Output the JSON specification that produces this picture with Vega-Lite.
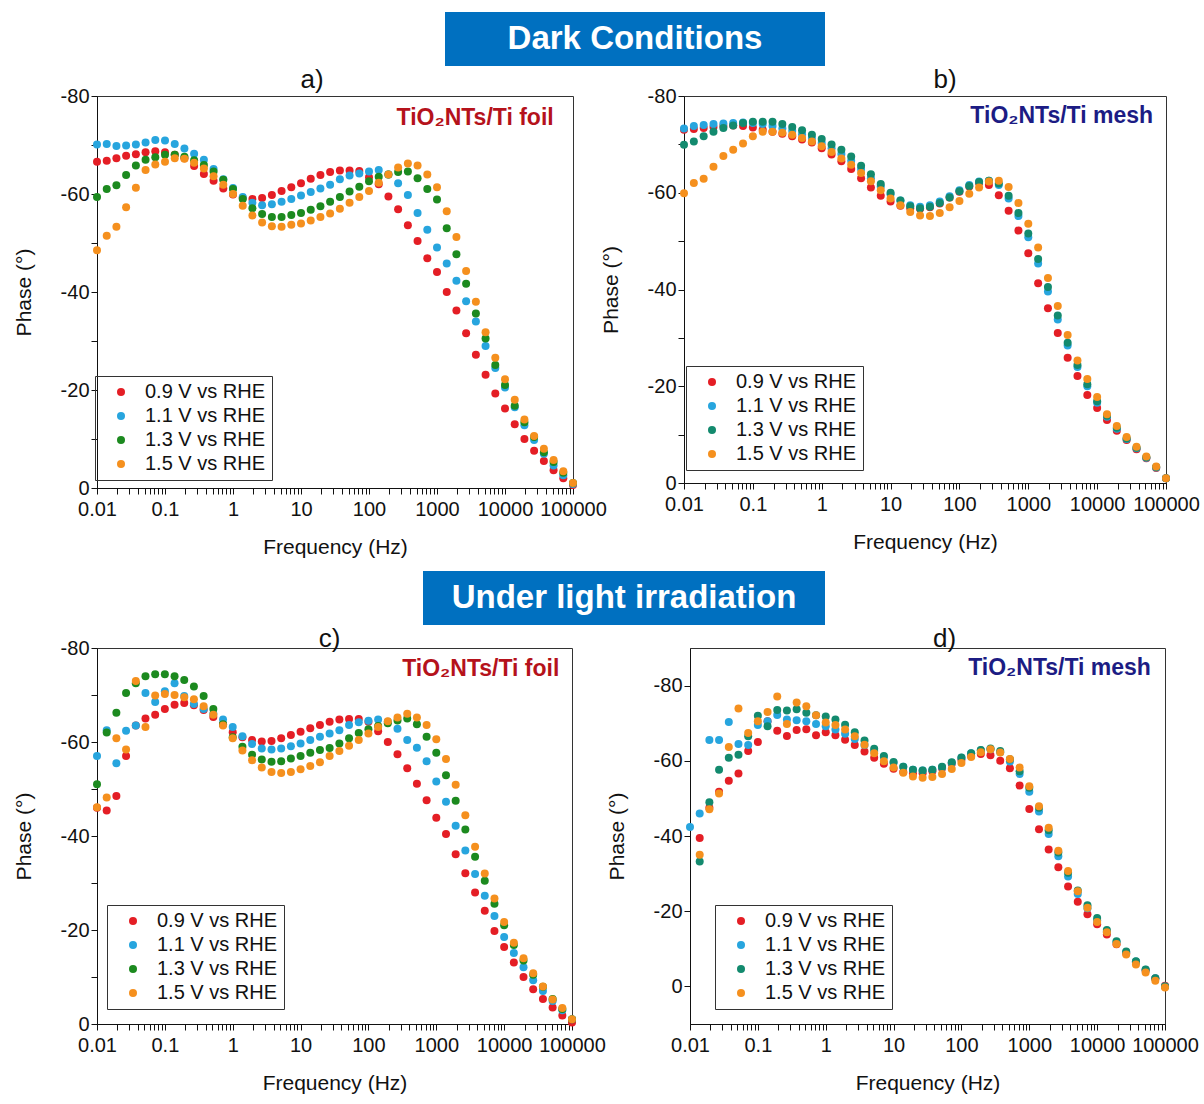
{
"$schema":"https://vega.github.io/schema/vega-lite/v6.json",
"background":"white",
"padding":{"left":12,"top":12,"right":4,"bottom":2},
"config":{
 "font":"Liberation Sans",
 "view":{"stroke":"#333","strokeWidth":1},
 "axis":{"labelFont":"Liberation Sans","titleFont":"Liberation Sans","labelFontSize":20,"titleFontSize":21,"titleFontWeight":"normal","labelColor":"#111","titleColor":"#111","domainColor":"#111","tickColor":"#111","grid":false,"tickSize":6},
 "legend":{"labelFont":"Liberation Sans","labelFontSize":20,"labelColor":"#111","symbolType":"circle","symbolSize":64,"symbolStrokeWidth":0,"padding":6,"rowPadding":4,"strokeColor":"#333","symbolOffset":10,"labelOffset":14},
 "title":{"font":"Liberation Sans","fontSize":26,"fontWeight":"normal","color":"#111","offset":4}
},
"datasets":{
"a":[
{"s":"0.9","f":0.01,"y":-66.6},{"s":"0.9","f":0.0139,"y":-66.8},{"s":"0.9","f":0.0193,"y":-67.3},{"s":"0.9","f":0.0268,"y":-67.8},{"s":"0.9","f":0.0373,"y":-68.1},{"s":"0.9","f":0.0518,"y":-68.5},{"s":"0.9","f":0.072,"y":-68.7},{"s":"0.9","f":0.1,"y":-68.5},{"s":"0.9","f":0.139,"y":-68.0},{"s":"0.9","f":0.193,"y":-67.3},{"s":"0.9","f":0.268,"y":-65.7},{"s":"0.9","f":0.373,"y":-64.1},{"s":"0.9","f":0.518,"y":-62.7},{"s":"0.9","f":0.72,"y":-61.1},{"s":"0.9","f":1,"y":-59.9},{"s":"0.9","f":1.39,"y":-59.2},{"s":"0.9","f":1.93,"y":-59.0},{"s":"0.9","f":2.68,"y":-59.2},{"s":"0.9","f":3.73,"y":-59.8},{"s":"0.9","f":5.18,"y":-60.6},{"s":"0.9","f":7.2,"y":-61.4},{"s":"0.9","f":10,"y":-62.2},{"s":"0.9","f":13.9,"y":-63.1},{"s":"0.9","f":19.3,"y":-63.9},{"s":"0.9","f":26.8,"y":-64.5},{"s":"0.9","f":37.3,"y":-64.8},{"s":"0.9","f":51.8,"y":-64.8},{"s":"0.9","f":72,"y":-64.7},{"s":"0.9","f":100,"y":-63.4},{"s":"0.9","f":139,"y":-62.0},{"s":"0.9","f":193,"y":-59.5},{"s":"0.9","f":268,"y":-56.9},{"s":"0.9","f":373,"y":-53.6},{"s":"0.9","f":518,"y":-50.4},{"s":"0.9","f":720,"y":-46.9},{"s":"0.9","f":1000,"y":-44.1},{"s":"0.9","f":1390,"y":-40.0},{"s":"0.9","f":1930,"y":-36.2},{"s":"0.9","f":2680,"y":-31.6},{"s":"0.9","f":3730,"y":-27.2},{"s":"0.9","f":5180,"y":-23.1},{"s":"0.9","f":7200,"y":-19.3},{"s":"0.9","f":10000,"y":-16.2},{"s":"0.9","f":13900,"y":-13.0},{"s":"0.9","f":19300,"y":-10.0},{"s":"0.9","f":26800,"y":-7.6},{"s":"0.9","f":37300,"y":-5.5},{"s":"0.9","f":51800,"y":-3.6},{"s":"0.9","f":72000,"y":-2.0},{"s":"0.9","f":100000,"y":-0.6},
{"s":"1.1","f":0.01,"y":-70.1},{"s":"1.1","f":0.0139,"y":-70.2},{"s":"1.1","f":0.0193,"y":-69.8},{"s":"1.1","f":0.0268,"y":-69.9},{"s":"1.1","f":0.0373,"y":-70.1},{"s":"1.1","f":0.0518,"y":-70.5},{"s":"1.1","f":0.072,"y":-71.0},{"s":"1.1","f":0.1,"y":-70.9},{"s":"1.1","f":0.139,"y":-70.2},{"s":"1.1","f":0.193,"y":-69.3},{"s":"1.1","f":0.268,"y":-68.2},{"s":"1.1","f":0.373,"y":-67.0},{"s":"1.1","f":0.518,"y":-65.1},{"s":"1.1","f":0.72,"y":-63.0},{"s":"1.1","f":1,"y":-61.2},{"s":"1.1","f":1.39,"y":-59.4},{"s":"1.1","f":1.93,"y":-58.2},{"s":"1.1","f":2.68,"y":-57.7},{"s":"1.1","f":3.73,"y":-57.9},{"s":"1.1","f":5.18,"y":-58.4},{"s":"1.1","f":7.2,"y":-59.0},{"s":"1.1","f":10,"y":-59.7},{"s":"1.1","f":13.9,"y":-60.4},{"s":"1.1","f":19.3,"y":-61.1},{"s":"1.1","f":26.8,"y":-61.9},{"s":"1.1","f":37.3,"y":-63.0},{"s":"1.1","f":51.8,"y":-63.8},{"s":"1.1","f":72,"y":-64.2},{"s":"1.1","f":100,"y":-64.6},{"s":"1.1","f":139,"y":-64.9},{"s":"1.1","f":193,"y":-64.0},{"s":"1.1","f":268,"y":-62.2},{"s":"1.1","f":373,"y":-59.8},{"s":"1.1","f":518,"y":-56.1},{"s":"1.1","f":720,"y":-52.7},{"s":"1.1","f":1000,"y":-49.1},{"s":"1.1","f":1390,"y":-45.8},{"s":"1.1","f":1930,"y":-42.3},{"s":"1.1","f":2680,"y":-38.1},{"s":"1.1","f":3730,"y":-34.0},{"s":"1.1","f":5180,"y":-29.0},{"s":"1.1","f":7200,"y":-24.5},{"s":"1.1","f":10000,"y":-20.5},{"s":"1.1","f":13900,"y":-16.5},{"s":"1.1","f":19300,"y":-12.8},{"s":"1.1","f":26800,"y":-9.8},{"s":"1.1","f":37300,"y":-7.0},{"s":"1.1","f":51800,"y":-4.6},{"s":"1.1","f":72000,"y":-2.6},{"s":"1.1","f":100000,"y":-0.8},
{"s":"1.3","f":0.01,"y":-59.4},{"s":"1.3","f":0.0139,"y":-61.0},{"s":"1.3","f":0.0193,"y":-61.8},{"s":"1.3","f":0.0268,"y":-63.9},{"s":"1.3","f":0.0373,"y":-65.8},{"s":"1.3","f":0.0518,"y":-67.0},{"s":"1.3","f":0.072,"y":-67.5},{"s":"1.3","f":0.1,"y":-68.0},{"s":"1.3","f":0.139,"y":-68.0},{"s":"1.3","f":0.193,"y":-67.6},{"s":"1.3","f":0.268,"y":-66.9},{"s":"1.3","f":0.373,"y":-65.9},{"s":"1.3","f":0.518,"y":-64.6},{"s":"1.3","f":0.72,"y":-62.9},{"s":"1.3","f":1,"y":-61.0},{"s":"1.3","f":1.39,"y":-59.0},{"s":"1.3","f":1.93,"y":-57.1},{"s":"1.3","f":2.68,"y":-55.9},{"s":"1.3","f":3.73,"y":-55.3},{"s":"1.3","f":5.18,"y":-55.3},{"s":"1.3","f":7.2,"y":-55.7},{"s":"1.3","f":10,"y":-56.1},{"s":"1.3","f":13.9,"y":-56.8},{"s":"1.3","f":19.3,"y":-57.5},{"s":"1.3","f":26.8,"y":-58.4},{"s":"1.3","f":37.3,"y":-59.4},{"s":"1.3","f":51.8,"y":-60.5},{"s":"1.3","f":72,"y":-61.5},{"s":"1.3","f":100,"y":-62.6},{"s":"1.3","f":139,"y":-63.5},{"s":"1.3","f":193,"y":-64.0},{"s":"1.3","f":268,"y":-64.5},{"s":"1.3","f":373,"y":-64.6},{"s":"1.3","f":518,"y":-63.2},{"s":"1.3","f":720,"y":-61.0},{"s":"1.3","f":1000,"y":-58.9},{"s":"1.3","f":1390,"y":-53.0},{"s":"1.3","f":1930,"y":-47.7},{"s":"1.3","f":2680,"y":-41.7},{"s":"1.3","f":3730,"y":-35.6},{"s":"1.3","f":5180,"y":-30.5},{"s":"1.3","f":7200,"y":-25.1},{"s":"1.3","f":10000,"y":-21.0},{"s":"1.3","f":13900,"y":-16.8},{"s":"1.3","f":19300,"y":-13.4},{"s":"1.3","f":26800,"y":-10.4},{"s":"1.3","f":37300,"y":-7.3},{"s":"1.3","f":51800,"y":-5.3},{"s":"1.3","f":72000,"y":-3.1},{"s":"1.3","f":100000,"y":-1.0},
{"s":"1.5","f":0.01,"y":-48.5},{"s":"1.5","f":0.0139,"y":-51.5},{"s":"1.5","f":0.0193,"y":-53.3},{"s":"1.5","f":0.0268,"y":-57.3},{"s":"1.5","f":0.0373,"y":-61.3},{"s":"1.5","f":0.0518,"y":-64.9},{"s":"1.5","f":0.072,"y":-66.0},{"s":"1.5","f":0.1,"y":-66.6},{"s":"1.5","f":0.139,"y":-67.3},{"s":"1.5","f":0.193,"y":-67.2},{"s":"1.5","f":0.268,"y":-66.4},{"s":"1.5","f":0.373,"y":-65.2},{"s":"1.5","f":0.518,"y":-63.6},{"s":"1.5","f":0.72,"y":-61.9},{"s":"1.5","f":1,"y":-60.0},{"s":"1.5","f":1.39,"y":-57.6},{"s":"1.5","f":1.93,"y":-55.6},{"s":"1.5","f":2.68,"y":-54.2},{"s":"1.5","f":3.73,"y":-53.4},{"s":"1.5","f":5.18,"y":-53.3},{"s":"1.5","f":7.2,"y":-53.7},{"s":"1.5","f":10,"y":-54.0},{"s":"1.5","f":13.9,"y":-54.6},{"s":"1.5","f":19.3,"y":-55.3},{"s":"1.5","f":26.8,"y":-56.0},{"s":"1.5","f":37.3,"y":-57.0},{"s":"1.5","f":51.8,"y":-58.2},{"s":"1.5","f":72,"y":-59.4},{"s":"1.5","f":100,"y":-60.6},{"s":"1.5","f":139,"y":-62.3},{"s":"1.5","f":193,"y":-64.0},{"s":"1.5","f":268,"y":-65.4},{"s":"1.5","f":373,"y":-66.2},{"s":"1.5","f":518,"y":-65.8},{"s":"1.5","f":720,"y":-64.0},{"s":"1.5","f":1000,"y":-61.4},{"s":"1.5","f":1390,"y":-56.5},{"s":"1.5","f":1930,"y":-51.2},{"s":"1.5","f":2680,"y":-44.3},{"s":"1.5","f":3730,"y":-38.0},{"s":"1.5","f":5180,"y":-31.8},{"s":"1.5","f":7200,"y":-26.6},{"s":"1.5","f":10000,"y":-22.2},{"s":"1.5","f":13900,"y":-18.0},{"s":"1.5","f":19300,"y":-14.0},{"s":"1.5","f":26800,"y":-10.6},{"s":"1.5","f":37300,"y":-8.0},{"s":"1.5","f":51800,"y":-5.7},{"s":"1.5","f":72000,"y":-3.4},{"s":"1.5","f":100000,"y":-1.0}
],
"b":[
{"s":"0.9","f":0.01,"y":-73.0},{"s":"0.9","f":0.0139,"y":-73.2},{"s":"0.9","f":0.0193,"y":-73.4},{"s":"0.9","f":0.0268,"y":-73.6},{"s":"0.9","f":0.0373,"y":-73.8},{"s":"0.9","f":0.0518,"y":-73.9},{"s":"0.9","f":0.072,"y":-73.8},{"s":"0.9","f":0.1,"y":-73.5},{"s":"0.9","f":0.139,"y":-73.0},{"s":"0.9","f":0.193,"y":-72.6},{"s":"0.9","f":0.268,"y":-72.2},{"s":"0.9","f":0.373,"y":-71.7},{"s":"0.9","f":0.518,"y":-71.0},{"s":"0.9","f":0.72,"y":-70.4},{"s":"0.9","f":1,"y":-69.2},{"s":"0.9","f":1.39,"y":-67.9},{"s":"0.9","f":1.93,"y":-66.5},{"s":"0.9","f":2.68,"y":-64.9},{"s":"0.9","f":3.73,"y":-63.0},{"s":"0.9","f":5.18,"y":-61.1},{"s":"0.9","f":7.2,"y":-59.4},{"s":"0.9","f":10,"y":-58.2},{"s":"0.9","f":13.9,"y":-57.3},{"s":"0.9","f":19.3,"y":-56.8},{"s":"0.9","f":26.8,"y":-56.7},{"s":"0.9","f":37.3,"y":-57.0},{"s":"0.9","f":51.8,"y":-57.8},{"s":"0.9","f":72,"y":-59.0},{"s":"0.9","f":100,"y":-60.2},{"s":"0.9","f":139,"y":-61.3},{"s":"0.9","f":193,"y":-62.0},{"s":"0.9","f":268,"y":-61.6},{"s":"0.9","f":373,"y":-59.5},{"s":"0.9","f":518,"y":-56.3},{"s":"0.9","f":720,"y":-52.2},{"s":"0.9","f":1000,"y":-47.5},{"s":"0.9","f":1390,"y":-41.3},{"s":"0.9","f":1930,"y":-36.1},{"s":"0.9","f":2680,"y":-31.0},{"s":"0.9","f":3730,"y":-25.9},{"s":"0.9","f":5180,"y":-22.1},{"s":"0.9","f":7200,"y":-18.2},{"s":"0.9","f":10000,"y":-15.5},{"s":"0.9","f":13900,"y":-13.0},{"s":"0.9","f":19300,"y":-10.8},{"s":"0.9","f":26800,"y":-8.9},{"s":"0.9","f":37300,"y":-7.0},{"s":"0.9","f":51800,"y":-5.1},{"s":"0.9","f":72000,"y":-3.1},{"s":"0.9","f":100000,"y":-1.0},
{"s":"1.1","f":0.01,"y":-73.3},{"s":"1.1","f":0.0139,"y":-73.8},{"s":"1.1","f":0.0193,"y":-74.0},{"s":"1.1","f":0.0268,"y":-74.2},{"s":"1.1","f":0.0373,"y":-74.3},{"s":"1.1","f":0.0518,"y":-74.4},{"s":"1.1","f":0.072,"y":-74.5},{"s":"1.1","f":0.1,"y":-74.4},{"s":"1.1","f":0.139,"y":-74.2},{"s":"1.1","f":0.193,"y":-73.8},{"s":"1.1","f":0.268,"y":-73.3},{"s":"1.1","f":0.373,"y":-72.8},{"s":"1.1","f":0.518,"y":-72.1},{"s":"1.1","f":0.72,"y":-71.3},{"s":"1.1","f":1,"y":-70.3},{"s":"1.1","f":1.39,"y":-69.2},{"s":"1.1","f":1.93,"y":-68.0},{"s":"1.1","f":2.68,"y":-66.6},{"s":"1.1","f":3.73,"y":-64.9},{"s":"1.1","f":5.18,"y":-63.0},{"s":"1.1","f":7.2,"y":-61.3},{"s":"1.1","f":10,"y":-59.7},{"s":"1.1","f":13.9,"y":-58.4},{"s":"1.1","f":19.3,"y":-57.4},{"s":"1.1","f":26.8,"y":-57.1},{"s":"1.1","f":37.3,"y":-57.4},{"s":"1.1","f":51.8,"y":-58.2},{"s":"1.1","f":72,"y":-59.3},{"s":"1.1","f":100,"y":-60.5},{"s":"1.1","f":139,"y":-61.6},{"s":"1.1","f":193,"y":-62.3},{"s":"1.1","f":268,"y":-62.5},{"s":"1.1","f":373,"y":-61.6},{"s":"1.1","f":518,"y":-58.8},{"s":"1.1","f":720,"y":-55.2},{"s":"1.1","f":1000,"y":-50.8},{"s":"1.1","f":1390,"y":-45.4},{"s":"1.1","f":1930,"y":-39.6},{"s":"1.1","f":2680,"y":-33.8},{"s":"1.1","f":3730,"y":-28.4},{"s":"1.1","f":5180,"y":-24.0},{"s":"1.1","f":7200,"y":-20.0},{"s":"1.1","f":10000,"y":-16.6},{"s":"1.1","f":13900,"y":-13.7},{"s":"1.1","f":19300,"y":-11.2},{"s":"1.1","f":26800,"y":-9.1},{"s":"1.1","f":37300,"y":-7.2},{"s":"1.1","f":51800,"y":-5.2},{"s":"1.1","f":72000,"y":-3.2},{"s":"1.1","f":100000,"y":-1.0},
{"s":"1.3","f":0.01,"y":-69.9},{"s":"1.3","f":0.0139,"y":-70.6},{"s":"1.3","f":0.0193,"y":-71.7},{"s":"1.3","f":0.0268,"y":-72.6},{"s":"1.3","f":0.0373,"y":-73.4},{"s":"1.3","f":0.0518,"y":-73.9},{"s":"1.3","f":0.072,"y":-74.4},{"s":"1.3","f":0.1,"y":-74.7},{"s":"1.3","f":0.139,"y":-74.7},{"s":"1.3","f":0.193,"y":-74.7},{"s":"1.3","f":0.268,"y":-74.2},{"s":"1.3","f":0.373,"y":-73.6},{"s":"1.3","f":0.518,"y":-72.9},{"s":"1.3","f":0.72,"y":-72.0},{"s":"1.3","f":1,"y":-71.1},{"s":"1.3","f":1.39,"y":-70.0},{"s":"1.3","f":1.93,"y":-68.9},{"s":"1.3","f":2.68,"y":-67.5},{"s":"1.3","f":3.73,"y":-65.6},{"s":"1.3","f":5.18,"y":-63.8},{"s":"1.3","f":7.2,"y":-61.8},{"s":"1.3","f":10,"y":-60.0},{"s":"1.3","f":13.9,"y":-58.4},{"s":"1.3","f":19.3,"y":-57.2},{"s":"1.3","f":26.8,"y":-56.8},{"s":"1.3","f":37.3,"y":-57.1},{"s":"1.3","f":51.8,"y":-57.9},{"s":"1.3","f":72,"y":-59.0},{"s":"1.3","f":100,"y":-60.3},{"s":"1.3","f":139,"y":-61.4},{"s":"1.3","f":193,"y":-62.2},{"s":"1.3","f":268,"y":-62.5},{"s":"1.3","f":373,"y":-61.9},{"s":"1.3","f":518,"y":-59.4},{"s":"1.3","f":720,"y":-55.8},{"s":"1.3","f":1000,"y":-51.6},{"s":"1.3","f":1390,"y":-46.3},{"s":"1.3","f":1930,"y":-40.5},{"s":"1.3","f":2680,"y":-34.6},{"s":"1.3","f":3730,"y":-29.0},{"s":"1.3","f":5180,"y":-24.4},{"s":"1.3","f":7200,"y":-20.4},{"s":"1.3","f":10000,"y":-16.9},{"s":"1.3","f":13900,"y":-13.9},{"s":"1.3","f":19300,"y":-11.4},{"s":"1.3","f":26800,"y":-9.2},{"s":"1.3","f":37300,"y":-7.3},{"s":"1.3","f":51800,"y":-5.3},{"s":"1.3","f":72000,"y":-3.3},{"s":"1.3","f":100000,"y":-1.0},
{"s":"1.5","f":0.01,"y":-59.9},{"s":"1.5","f":0.0139,"y":-62.0},{"s":"1.5","f":0.0193,"y":-62.9},{"s":"1.5","f":0.0268,"y":-65.4},{"s":"1.5","f":0.0373,"y":-67.6},{"s":"1.5","f":0.0518,"y":-68.9},{"s":"1.5","f":0.072,"y":-70.2},{"s":"1.5","f":0.1,"y":-71.7},{"s":"1.5","f":0.139,"y":-72.6},{"s":"1.5","f":0.193,"y":-72.6},{"s":"1.5","f":0.268,"y":-72.4},{"s":"1.5","f":0.373,"y":-72.0},{"s":"1.5","f":0.518,"y":-71.3},{"s":"1.5","f":0.72,"y":-70.6},{"s":"1.5","f":1,"y":-69.6},{"s":"1.5","f":1.39,"y":-68.4},{"s":"1.5","f":1.93,"y":-67.1},{"s":"1.5","f":2.68,"y":-65.8},{"s":"1.5","f":3.73,"y":-64.1},{"s":"1.5","f":5.18,"y":-62.4},{"s":"1.5","f":7.2,"y":-60.5},{"s":"1.5","f":10,"y":-58.8},{"s":"1.5","f":13.9,"y":-57.4},{"s":"1.5","f":19.3,"y":-56.0},{"s":"1.5","f":26.8,"y":-55.3},{"s":"1.5","f":37.3,"y":-55.2},{"s":"1.5","f":51.8,"y":-55.8},{"s":"1.5","f":72,"y":-57.0},{"s":"1.5","f":100,"y":-58.3},{"s":"1.5","f":139,"y":-59.8},{"s":"1.5","f":193,"y":-61.1},{"s":"1.5","f":268,"y":-62.3},{"s":"1.5","f":373,"y":-62.5},{"s":"1.5","f":518,"y":-61.2},{"s":"1.5","f":720,"y":-57.9},{"s":"1.5","f":1000,"y":-53.6},{"s":"1.5","f":1390,"y":-48.7},{"s":"1.5","f":1930,"y":-42.4},{"s":"1.5","f":2680,"y":-36.6},{"s":"1.5","f":3730,"y":-30.6},{"s":"1.5","f":5180,"y":-25.3},{"s":"1.5","f":7200,"y":-21.5},{"s":"1.5","f":10000,"y":-17.8},{"s":"1.5","f":13900,"y":-14.2},{"s":"1.5","f":19300,"y":-11.8},{"s":"1.5","f":26800,"y":-9.5},{"s":"1.5","f":37300,"y":-7.5},{"s":"1.5","f":51800,"y":-5.5},{"s":"1.5","f":72000,"y":-3.4},{"s":"1.5","f":100000,"y":-1.0}
],
"c":[
{"s":"0.9","f":0.01,"y":-46.0},{"s":"0.9","f":0.0139,"y":-45.4},{"s":"0.9","f":0.0193,"y":-48.5},{"s":"0.9","f":0.0268,"y":-57.0},{"s":"0.9","f":0.0373,"y":-63.5},{"s":"0.9","f":0.0518,"y":-65.0},{"s":"0.9","f":0.072,"y":-65.8},{"s":"0.9","f":0.1,"y":-67.0},{"s":"0.9","f":0.139,"y":-67.9},{"s":"0.9","f":0.193,"y":-68.3},{"s":"0.9","f":0.268,"y":-67.8},{"s":"0.9","f":0.373,"y":-66.8},{"s":"0.9","f":0.518,"y":-65.3},{"s":"0.9","f":0.72,"y":-63.8},{"s":"0.9","f":1,"y":-62.1},{"s":"0.9","f":1.39,"y":-61.0},{"s":"0.9","f":1.93,"y":-60.4},{"s":"0.9","f":2.68,"y":-60.1},{"s":"0.9","f":3.73,"y":-60.2},{"s":"0.9","f":5.18,"y":-60.8},{"s":"0.9","f":7.2,"y":-61.5},{"s":"0.9","f":10,"y":-62.2},{"s":"0.9","f":13.9,"y":-62.9},{"s":"0.9","f":19.3,"y":-63.6},{"s":"0.9","f":26.8,"y":-64.3},{"s":"0.9","f":37.3,"y":-64.8},{"s":"0.9","f":51.8,"y":-64.9},{"s":"0.9","f":72,"y":-64.9},{"s":"0.9","f":100,"y":-64.3},{"s":"0.9","f":139,"y":-62.3},{"s":"0.9","f":193,"y":-60.0},{"s":"0.9","f":268,"y":-57.4},{"s":"0.9","f":373,"y":-54.4},{"s":"0.9","f":518,"y":-51.1},{"s":"0.9","f":720,"y":-47.6},{"s":"0.9","f":1000,"y":-43.9},{"s":"0.9","f":1390,"y":-40.4},{"s":"0.9","f":1930,"y":-36.1},{"s":"0.9","f":2680,"y":-32.1},{"s":"0.9","f":3730,"y":-28.0},{"s":"0.9","f":5180,"y":-24.1},{"s":"0.9","f":7200,"y":-19.8},{"s":"0.9","f":10000,"y":-16.4},{"s":"0.9","f":13900,"y":-13.1},{"s":"0.9","f":19300,"y":-10.0},{"s":"0.9","f":26800,"y":-7.4},{"s":"0.9","f":37300,"y":-5.3},{"s":"0.9","f":51800,"y":-3.5},{"s":"0.9","f":72000,"y":-1.8},{"s":"0.9","f":100000,"y":-0.3},
{"s":"1.1","f":0.01,"y":-57.0},{"s":"1.1","f":0.0139,"y":-62.5},{"s":"1.1","f":0.0193,"y":-55.5},{"s":"1.1","f":0.0268,"y":-62.4},{"s":"1.1","f":0.0373,"y":-63.5},{"s":"1.1","f":0.0518,"y":-70.4},{"s":"1.1","f":0.072,"y":-68.5},{"s":"1.1","f":0.1,"y":-70.8},{"s":"1.1","f":0.139,"y":-72.5},{"s":"1.1","f":0.193,"y":-69.8},{"s":"1.1","f":0.268,"y":-68.1},{"s":"1.1","f":0.373,"y":-67.0},{"s":"1.1","f":0.518,"y":-66.0},{"s":"1.1","f":0.72,"y":-64.8},{"s":"1.1","f":1,"y":-63.2},{"s":"1.1","f":1.39,"y":-61.2},{"s":"1.1","f":1.93,"y":-59.6},{"s":"1.1","f":2.68,"y":-58.6},{"s":"1.1","f":3.73,"y":-58.4},{"s":"1.1","f":5.18,"y":-58.6},{"s":"1.1","f":7.2,"y":-59.1},{"s":"1.1","f":10,"y":-59.7},{"s":"1.1","f":13.9,"y":-60.4},{"s":"1.1","f":19.3,"y":-61.1},{"s":"1.1","f":26.8,"y":-61.8},{"s":"1.1","f":37.3,"y":-62.5},{"s":"1.1","f":51.8,"y":-63.6},{"s":"1.1","f":72,"y":-64.2},{"s":"1.1","f":100,"y":-64.5},{"s":"1.1","f":139,"y":-64.8},{"s":"1.1","f":193,"y":-64.3},{"s":"1.1","f":268,"y":-62.8},{"s":"1.1","f":373,"y":-60.4},{"s":"1.1","f":518,"y":-58.8},{"s":"1.1","f":720,"y":-55.9},{"s":"1.1","f":1000,"y":-51.6},{"s":"1.1","f":1390,"y":-47.3},{"s":"1.1","f":1930,"y":-42.2},{"s":"1.1","f":2680,"y":-36.9},{"s":"1.1","f":3730,"y":-31.9},{"s":"1.1","f":5180,"y":-27.3},{"s":"1.1","f":7200,"y":-23.0},{"s":"1.1","f":10000,"y":-18.5},{"s":"1.1","f":13900,"y":-15.1},{"s":"1.1","f":19300,"y":-12.1},{"s":"1.1","f":26800,"y":-9.3},{"s":"1.1","f":37300,"y":-7.0},{"s":"1.1","f":51800,"y":-4.9},{"s":"1.1","f":72000,"y":-2.9},{"s":"1.1","f":100000,"y":-1.0},
{"s":"1.3","f":0.01,"y":-51.0},{"s":"1.3","f":0.0139,"y":-62.0},{"s":"1.3","f":0.0193,"y":-66.2},{"s":"1.3","f":0.0268,"y":-70.4},{"s":"1.3","f":0.0373,"y":-72.5},{"s":"1.3","f":0.0518,"y":-74.0},{"s":"1.3","f":0.072,"y":-74.4},{"s":"1.3","f":0.1,"y":-74.4},{"s":"1.3","f":0.139,"y":-74.0},{"s":"1.3","f":0.193,"y":-73.2},{"s":"1.3","f":0.268,"y":-71.8},{"s":"1.3","f":0.373,"y":-69.8},{"s":"1.3","f":0.518,"y":-67.0},{"s":"1.3","f":0.72,"y":-63.8},{"s":"1.3","f":1,"y":-61.0},{"s":"1.3","f":1.39,"y":-59.0},{"s":"1.3","f":1.93,"y":-57.3},{"s":"1.3","f":2.68,"y":-56.3},{"s":"1.3","f":3.73,"y":-55.8},{"s":"1.3","f":5.18,"y":-55.9},{"s":"1.3","f":7.2,"y":-56.5},{"s":"1.3","f":10,"y":-57.0},{"s":"1.3","f":13.9,"y":-57.7},{"s":"1.3","f":19.3,"y":-58.3},{"s":"1.3","f":26.8,"y":-58.7},{"s":"1.3","f":37.3,"y":-59.7},{"s":"1.3","f":51.8,"y":-60.8},{"s":"1.3","f":72,"y":-61.9},{"s":"1.3","f":100,"y":-62.7},{"s":"1.3","f":139,"y":-63.4},{"s":"1.3","f":193,"y":-64.0},{"s":"1.3","f":268,"y":-64.6},{"s":"1.3","f":373,"y":-65.0},{"s":"1.3","f":518,"y":-63.8},{"s":"1.3","f":720,"y":-61.1},{"s":"1.3","f":1000,"y":-57.7},{"s":"1.3","f":1390,"y":-52.9},{"s":"1.3","f":1930,"y":-47.5},{"s":"1.3","f":2680,"y":-41.4},{"s":"1.3","f":3730,"y":-35.6},{"s":"1.3","f":5180,"y":-30.5},{"s":"1.3","f":7200,"y":-25.6},{"s":"1.3","f":10000,"y":-21.0},{"s":"1.3","f":13900,"y":-16.8},{"s":"1.3","f":19300,"y":-13.5},{"s":"1.3","f":26800,"y":-10.5},{"s":"1.3","f":37300,"y":-7.9},{"s":"1.3","f":51800,"y":-5.3},{"s":"1.3","f":72000,"y":-3.2},{"s":"1.3","f":100000,"y":-1.0},
{"s":"1.5","f":0.01,"y":-46.1},{"s":"1.5","f":0.0139,"y":-48.2},{"s":"1.5","f":0.0193,"y":-60.8},{"s":"1.5","f":0.0268,"y":-58.4},{"s":"1.5","f":0.0373,"y":-73.0},{"s":"1.5","f":0.0518,"y":-63.2},{"s":"1.5","f":0.072,"y":-69.9},{"s":"1.5","f":0.1,"y":-70.2},{"s":"1.5","f":0.139,"y":-70.0},{"s":"1.5","f":0.193,"y":-69.5},{"s":"1.5","f":0.268,"y":-69.1},{"s":"1.5","f":0.373,"y":-67.6},{"s":"1.5","f":0.518,"y":-65.8},{"s":"1.5","f":0.72,"y":-63.5},{"s":"1.5","f":1,"y":-60.8},{"s":"1.5","f":1.39,"y":-58.2},{"s":"1.5","f":1.93,"y":-56.1},{"s":"1.5","f":2.68,"y":-54.6},{"s":"1.5","f":3.73,"y":-53.6},{"s":"1.5","f":5.18,"y":-53.4},{"s":"1.5","f":7.2,"y":-53.6},{"s":"1.5","f":10,"y":-54.2},{"s":"1.5","f":13.9,"y":-54.9},{"s":"1.5","f":19.3,"y":-55.7},{"s":"1.5","f":26.8,"y":-57.0},{"s":"1.5","f":37.3,"y":-58.1},{"s":"1.5","f":51.8,"y":-59.2},{"s":"1.5","f":72,"y":-60.4},{"s":"1.5","f":100,"y":-61.8},{"s":"1.5","f":139,"y":-63.2},{"s":"1.5","f":193,"y":-64.4},{"s":"1.5","f":268,"y":-65.2},{"s":"1.5","f":373,"y":-66.0},{"s":"1.5","f":518,"y":-65.2},{"s":"1.5","f":720,"y":-63.6},{"s":"1.5","f":1000,"y":-60.6},{"s":"1.5","f":1390,"y":-56.4},{"s":"1.5","f":1930,"y":-50.9},{"s":"1.5","f":2680,"y":-44.4},{"s":"1.5","f":3730,"y":-37.7},{"s":"1.5","f":5180,"y":-32.0},{"s":"1.5","f":7200,"y":-26.7},{"s":"1.5","f":10000,"y":-21.7},{"s":"1.5","f":13900,"y":-17.3},{"s":"1.5","f":19300,"y":-14.0},{"s":"1.5","f":26800,"y":-10.8},{"s":"1.5","f":37300,"y":-8.0},{"s":"1.5","f":51800,"y":-5.2},{"s":"1.5","f":72000,"y":-3.4},{"s":"1.5","f":100000,"y":-1.0}
],
"d":[
{"s":"0.9","f":0.0139,"y":-39.5},{"s":"0.9","f":0.0193,"y":-47.5},{"s":"0.9","f":0.0268,"y":-51.8},{"s":"0.9","f":0.0373,"y":-54.7},{"s":"0.9","f":0.0518,"y":-56.6},{"s":"0.9","f":0.072,"y":-62.6},{"s":"0.9","f":0.1,"y":-65.0},{"s":"0.9","f":0.139,"y":-70.5},{"s":"0.9","f":0.193,"y":-68.0},{"s":"0.9","f":0.268,"y":-66.6},{"s":"0.9","f":0.373,"y":-68.2},{"s":"0.9","f":0.518,"y":-68.4},{"s":"0.9","f":0.72,"y":-66.8},{"s":"0.9","f":1,"y":-67.6},{"s":"0.9","f":1.39,"y":-66.8},{"s":"0.9","f":1.93,"y":-65.6},{"s":"0.9","f":2.68,"y":-64.2},{"s":"0.9","f":3.73,"y":-62.5},{"s":"0.9","f":5.18,"y":-60.8},{"s":"0.9","f":7.2,"y":-59.2},{"s":"0.9","f":10,"y":-57.9},{"s":"0.9","f":13.9,"y":-57.0},{"s":"0.9","f":19.3,"y":-56.6},{"s":"0.9","f":26.8,"y":-56.7},{"s":"0.9","f":37.3,"y":-57.2},{"s":"0.9","f":51.8,"y":-58.0},{"s":"0.9","f":72,"y":-59.2},{"s":"0.9","f":100,"y":-60.3},{"s":"0.9","f":139,"y":-61.3},{"s":"0.9","f":193,"y":-61.8},{"s":"0.9","f":268,"y":-61.5},{"s":"0.9","f":373,"y":-60.0},{"s":"0.9","f":518,"y":-58.0},{"s":"0.9","f":720,"y":-53.4},{"s":"0.9","f":1000,"y":-47.2},{"s":"0.9","f":1390,"y":-41.8},{"s":"0.9","f":1930,"y":-36.4},{"s":"0.9","f":2680,"y":-31.7},{"s":"0.9","f":3730,"y":-26.6},{"s":"0.9","f":5180,"y":-22.5},{"s":"0.9","f":7200,"y":-19.2},{"s":"0.9","f":10000,"y":-16.5},{"s":"0.9","f":13900,"y":-13.8},{"s":"0.9","f":19300,"y":-11.2},{"s":"0.9","f":26800,"y":-8.8},{"s":"0.9","f":37300,"y":-6.4},{"s":"0.9","f":51800,"y":-4.2},{"s":"0.9","f":72000,"y":-2.1},{"s":"0.9","f":100000,"y":-0.2},
{"s":"1.1","f":0.01,"y":-42.4},{"s":"1.1","f":0.0139,"y":-46.0},{"s":"1.1","f":0.0193,"y":-65.5},{"s":"1.1","f":0.0268,"y":-65.5},{"s":"1.1","f":0.0373,"y":-70.3},{"s":"1.1","f":0.0518,"y":-64.5},{"s":"1.1","f":0.072,"y":-64.2},{"s":"1.1","f":0.1,"y":-69.5},{"s":"1.1","f":0.139,"y":-70.5},{"s":"1.1","f":0.193,"y":-72.2},{"s":"1.1","f":0.268,"y":-71.0},{"s":"1.1","f":0.373,"y":-70.8},{"s":"1.1","f":0.518,"y":-70.5},{"s":"1.1","f":0.72,"y":-69.8},{"s":"1.1","f":1,"y":-69.2},{"s":"1.1","f":1.39,"y":-68.3},{"s":"1.1","f":1.93,"y":-67.2},{"s":"1.1","f":2.68,"y":-65.8},{"s":"1.1","f":3.73,"y":-64.2},{"s":"1.1","f":5.18,"y":-62.6},{"s":"1.1","f":7.2,"y":-61.0},{"s":"1.1","f":10,"y":-59.5},{"s":"1.1","f":13.9,"y":-58.4},{"s":"1.1","f":19.3,"y":-57.6},{"s":"1.1","f":26.8,"y":-57.4},{"s":"1.1","f":37.3,"y":-57.6},{"s":"1.1","f":51.8,"y":-58.3},{"s":"1.1","f":72,"y":-59.5},{"s":"1.1","f":100,"y":-60.8},{"s":"1.1","f":139,"y":-62.0},{"s":"1.1","f":193,"y":-62.8},{"s":"1.1","f":268,"y":-63.1},{"s":"1.1","f":373,"y":-62.3},{"s":"1.1","f":518,"y":-59.8},{"s":"1.1","f":720,"y":-56.5},{"s":"1.1","f":1000,"y":-51.8},{"s":"1.1","f":1390,"y":-46.5},{"s":"1.1","f":1930,"y":-40.5},{"s":"1.1","f":2680,"y":-34.6},{"s":"1.1","f":3730,"y":-29.2},{"s":"1.1","f":5180,"y":-24.6},{"s":"1.1","f":7200,"y":-20.8},{"s":"1.1","f":10000,"y":-17.6},{"s":"1.1","f":13900,"y":-14.6},{"s":"1.1","f":19300,"y":-11.8},{"s":"1.1","f":26800,"y":-9.1},{"s":"1.1","f":37300,"y":-6.6},{"s":"1.1","f":51800,"y":-4.4},{"s":"1.1","f":72000,"y":-2.2},{"s":"1.1","f":100000,"y":0.0},
{"s":"1.3","f":0.0139,"y":-33.2},{"s":"1.3","f":0.0193,"y":-49.0},{"s":"1.3","f":0.0268,"y":-57.6},{"s":"1.3","f":0.0373,"y":-60.8},{"s":"1.3","f":0.0518,"y":-61.6},{"s":"1.3","f":0.072,"y":-66.5},{"s":"1.3","f":0.1,"y":-72.0},{"s":"1.3","f":0.139,"y":-69.2},{"s":"1.3","f":0.193,"y":-73.5},{"s":"1.3","f":0.268,"y":-73.4},{"s":"1.3","f":0.373,"y":-73.7},{"s":"1.3","f":0.518,"y":-72.8},{"s":"1.3","f":0.72,"y":-72.1},{"s":"1.3","f":1,"y":-71.8},{"s":"1.3","f":1.39,"y":-71.0},{"s":"1.3","f":1.93,"y":-69.6},{"s":"1.3","f":2.68,"y":-67.6},{"s":"1.3","f":3.73,"y":-65.4},{"s":"1.3","f":5.18,"y":-63.2},{"s":"1.3","f":7.2,"y":-61.3},{"s":"1.3","f":10,"y":-59.7},{"s":"1.3","f":13.9,"y":-58.4},{"s":"1.3","f":19.3,"y":-57.6},{"s":"1.3","f":26.8,"y":-57.4},{"s":"1.3","f":37.3,"y":-57.6},{"s":"1.3","f":51.8,"y":-58.4},{"s":"1.3","f":72,"y":-59.6},{"s":"1.3","f":100,"y":-60.9},{"s":"1.3","f":139,"y":-62.0},{"s":"1.3","f":193,"y":-62.9},{"s":"1.3","f":268,"y":-63.3},{"s":"1.3","f":373,"y":-62.6},{"s":"1.3","f":518,"y":-60.4},{"s":"1.3","f":720,"y":-57.2},{"s":"1.3","f":1000,"y":-52.8},{"s":"1.3","f":1390,"y":-47.5},{"s":"1.3","f":1930,"y":-41.5},{"s":"1.3","f":2680,"y":-35.6},{"s":"1.3","f":3730,"y":-30.2},{"s":"1.3","f":5180,"y":-25.5},{"s":"1.3","f":7200,"y":-21.6},{"s":"1.3","f":10000,"y":-18.2},{"s":"1.3","f":13900,"y":-15.0},{"s":"1.3","f":19300,"y":-12.0},{"s":"1.3","f":26800,"y":-9.3},{"s":"1.3","f":37300,"y":-6.7},{"s":"1.3","f":51800,"y":-4.5},{"s":"1.3","f":72000,"y":-2.2},{"s":"1.3","f":100000,"y":0.0},
{"s":"1.5","f":0.0139,"y":-35.0},{"s":"1.5","f":0.0193,"y":-47.1},{"s":"1.5","f":0.0268,"y":-51.3},{"s":"1.5","f":0.0373,"y":-63.7},{"s":"1.5","f":0.0518,"y":-73.9},{"s":"1.5","f":0.072,"y":-67.4},{"s":"1.5","f":0.1,"y":-70.5},{"s":"1.5","f":0.139,"y":-73.0},{"s":"1.5","f":0.193,"y":-77.1},{"s":"1.5","f":0.268,"y":-69.8},{"s":"1.5","f":0.373,"y":-75.5},{"s":"1.5","f":0.518,"y":-74.5},{"s":"1.5","f":0.72,"y":-72.1},{"s":"1.5","f":1,"y":-70.2},{"s":"1.5","f":1.39,"y":-69.5},{"s":"1.5","f":1.93,"y":-68.3},{"s":"1.5","f":2.68,"y":-66.5},{"s":"1.5","f":3.73,"y":-64.3},{"s":"1.5","f":5.18,"y":-62.0},{"s":"1.5","f":7.2,"y":-59.9},{"s":"1.5","f":10,"y":-58.2},{"s":"1.5","f":13.9,"y":-56.8},{"s":"1.5","f":19.3,"y":-55.8},{"s":"1.5","f":26.8,"y":-55.5},{"s":"1.5","f":37.3,"y":-55.7},{"s":"1.5","f":51.8,"y":-56.5},{"s":"1.5","f":72,"y":-57.8},{"s":"1.5","f":100,"y":-59.4},{"s":"1.5","f":139,"y":-61.0},{"s":"1.5","f":193,"y":-62.3},{"s":"1.5","f":268,"y":-63.1},{"s":"1.5","f":373,"y":-62.2},{"s":"1.5","f":518,"y":-60.5},{"s":"1.5","f":720,"y":-58.2},{"s":"1.5","f":1000,"y":-53.2},{"s":"1.5","f":1390,"y":-47.9},{"s":"1.5","f":1930,"y":-42.2},{"s":"1.5","f":2680,"y":-36.1},{"s":"1.5","f":3730,"y":-30.7},{"s":"1.5","f":5180,"y":-25.3},{"s":"1.5","f":7200,"y":-20.9},{"s":"1.5","f":10000,"y":-17.1},{"s":"1.5","f":13900,"y":-14.4},{"s":"1.5","f":19300,"y":-11.3},{"s":"1.5","f":26800,"y":-8.5},{"s":"1.5","f":37300,"y":-5.8},{"s":"1.5","f":51800,"y":-3.7},{"s":"1.5","f":72000,"y":-1.5},{"s":"1.5","f":100000,"y":0.3}
]
},
"spacing":0,
"resolve":{"scale":{"color":"independent","x":"independent","y":"independent"},"legend":{"color":"independent"},"axis":{"x":"independent","y":"independent"}},
"vconcat":[
{"spacing":0,"hconcat":[
 {"width":348,"height":54,"view":{"stroke":null},"data":{"values":[{}]},"mark":"text","encoding":{"text":{"value":""}}},
 {"width":380,"height":54,"view":{"fill":"#0070C0","stroke":null},"data":{"values":[{"t":"Dark Conditions"}]},"mark":{"type":"text","color":"white","fontSize":33,"fontWeight":"bold","font":"Liberation Sans"},"encoding":{"text":{"field":"t"}}}
]},
{"spacing":111,"bounds":"flush",
 "resolve":{"scale":{"color":"independent","x":"independent","y":"independent"},"legend":{"color":"independent"},"axis":{"x":"independent","y":"independent"}},
 "hconcat":[
 {"width":476,"height":392,"title":{"text":"a)","dx":-23,"offset":-7},"data":{"name":"a"},
  "layer":[
   {"mark":{"type":"circle","size":64,"opacity":1},
    "encoding":{
     "x":{"field":"f","type":"quantitative","title":"Frequency (Hz)","scale":{"type":"log","domain":[0.01,100000],"nice":false},"axis":{"tickCount":70,"labelExpr":"abs(log(datum.value)/LN10 - round(log(datum.value)/LN10)) < 0.000001 ? '' + datum.value : ''","labelOverlap":false,"labelFlush":false,"labelPadding":5,"titlePadding":17,"encode":{"ticks":{"update":{"y2":{"signal":"abs(log(datum.value)/LN10 - round(log(datum.value)/LN10)) < 0.000001 ? 6 : 3"}}}}}},
     "y":{"field":"y","type":"quantitative","title":"Phase (°)","scale":{"domain":[-80,0],"reverse":true,"nice":false,"zero":false},"axis":{"values":[-80,-70,-60,-50,-40,-30,-20,-10,0],"labelOverlap":false,"labelExpr":"datum.value % 20 === 0 ? '' + datum.value : ''","labelPadding":2,"titlePadding":26,"encode":{"ticks":{"update":{"x2":{"signal":"datum.value % 20 === 0 ? -6 : -3"}}}}}},
     "color":{"field":"s","type":"nominal","scale":{"domain":["0.9","1.1","1.3","1.5"],"range":["#E41E25","#27A5DE","#1C8A1F","#F5901E"]},"legend":{"orient":"none","legendX":-2,"legendY":280,"title":null,"labelExpr":"datum.label + ' V vs RHE'"}}
    }},
   {"data":{"values":[{}]},"mark":{"type":"text","align":"right","baseline":"middle","fontSize":23,"fontWeight":"bold","color":"#B5121B","font":"Liberation Sans"},
    "encoding":{"x":{"datum":52000,"type":"quantitative"},"y":{"datum":-75.5,"type":"quantitative"},"text":{"value":"TiO₂NTs/Ti foil"}}}
  ]},
 {"width":482,"height":387,"title":{"text":"b)","dx":20,"offset":-7},"data":{"name":"b"},
  "layer":[
   {"mark":{"type":"circle","size":64,"opacity":1},
    "encoding":{
     "x":{"field":"f","type":"quantitative","title":"Frequency (Hz)","scale":{"type":"log","domain":[0.01,100000],"nice":false},"axis":{"tickCount":70,"labelExpr":"abs(log(datum.value)/LN10 - round(log(datum.value)/LN10)) < 0.000001 ? '' + datum.value : ''","labelOverlap":false,"labelFlush":false,"labelPadding":5,"titlePadding":17,"encode":{"ticks":{"update":{"y2":{"signal":"abs(log(datum.value)/LN10 - round(log(datum.value)/LN10)) < 0.000001 ? 6 : 3"}}}}}},
     "y":{"field":"y","type":"quantitative","title":"Phase (°)","scale":{"domain":[-80,0],"reverse":true,"nice":false,"zero":false},"axis":{"values":[-80,-70,-60,-50,-40,-30,-20,-10,0],"labelOverlap":false,"labelExpr":"datum.value % 20 === 0 ? '' + datum.value : ''","labelPadding":2,"titlePadding":26,"encode":{"ticks":{"update":{"x2":{"signal":"datum.value % 20 === 0 ? -6 : -3"}}}}}},
     "color":{"field":"s","type":"nominal","scale":{"domain":["0.9","1.1","1.3","1.5"],"range":["#E41E25","#27A5DE","#138A6E","#F5901E"]},"legend":{"orient":"none","legendX":2,"legendY":270,"title":null,"labelExpr":"datum.label + ' V vs RHE'"}}
    }},
   {"data":{"values":[{}]},"mark":{"type":"text","align":"right","baseline":"middle","fontSize":23,"fontWeight":"bold","color":"#1C1C84","font":"Liberation Sans"},
    "encoding":{"x":{"datum":65000,"type":"quantitative"},"y":{"datum":-75.9,"type":"quantitative"},"text":{"value":"TiO₂NTs/Ti mesh"}}}
  ]}
]},
{"spacing":0,"title":{"text":" ","fontSize":11,"offset":2},"hconcat":[
 {"width":326,"height":54,"view":{"stroke":null},"data":{"values":[{}]},"mark":"text","encoding":{"text":{"value":""}}},
 {"width":402,"height":54,"view":{"fill":"#0070C0","stroke":null},"data":{"values":[{"t":"Under light irradiation"}]},"mark":{"type":"text","color":"white","fontSize":33,"fontWeight":"bold","font":"Liberation Sans"},"encoding":{"text":{"field":"t"}}}
]},
{"spacing":118,"bounds":"flush",
 "resolve":{"scale":{"color":"independent","x":"independent","y":"independent"},"legend":{"color":"independent"},"axis":{"x":"independent","y":"independent"}},
 "hconcat":[
 {"width":475,"height":376,"title":{"text":"c)","dx":-5,"offset":-14},"data":{"name":"c"},
  "layer":[
   {"mark":{"type":"circle","size":64,"opacity":1},
    "encoding":{
     "x":{"field":"f","type":"quantitative","title":"Frequency (Hz)","scale":{"type":"log","domain":[0.01,100000],"nice":false},"axis":{"tickCount":70,"labelExpr":"abs(log(datum.value)/LN10 - round(log(datum.value)/LN10)) < 0.000001 ? '' + datum.value : ''","labelOverlap":false,"labelFlush":false,"labelPadding":5,"titlePadding":17,"encode":{"ticks":{"update":{"y2":{"signal":"abs(log(datum.value)/LN10 - round(log(datum.value)/LN10)) < 0.000001 ? 6 : 3"}}}}}},
     "y":{"field":"y","type":"quantitative","title":"Phase (°)","scale":{"domain":[-80,0],"reverse":true,"nice":false,"zero":false},"axis":{"values":[-80,-70,-60,-50,-40,-30,-20,-10,0],"labelOverlap":false,"labelExpr":"datum.value % 20 === 0 ? '' + datum.value : ''","labelPadding":2,"titlePadding":26,"encode":{"ticks":{"update":{"x2":{"signal":"datum.value % 20 === 0 ? -6 : -3"}}}}}},
     "color":{"field":"s","type":"nominal","scale":{"domain":["0.9","1.1","1.3","1.5"],"range":["#E41E25","#27A5DE","#1C8A1F","#F5901E"]},"legend":{"orient":"none","legendX":10,"legendY":257,"title":null,"labelExpr":"datum.label + ' V vs RHE'"}}
    }},
   {"data":{"values":[{}]},"mark":{"type":"text","align":"right","baseline":"middle","fontSize":23,"fontWeight":"bold","color":"#B5121B","font":"Liberation Sans"},
    "encoding":{"x":{"datum":65000,"type":"quantitative"},"y":{"datum":-75.6,"type":"quantitative"},"text":{"value":"TiO₂NTs/Ti foil"}}}
  ]},
 {"width":475,"height":376,"title":{"text":"d)","dx":17,"offset":-4},"data":{"name":"d"},
  "layer":[
   {"mark":{"type":"circle","size":64,"opacity":1},
    "encoding":{
     "x":{"field":"f","type":"quantitative","title":"Frequency (Hz)","scale":{"type":"log","domain":[0.01,100000],"nice":false},"axis":{"tickCount":70,"labelExpr":"abs(log(datum.value)/LN10 - round(log(datum.value)/LN10)) < 0.000001 ? '' + datum.value : ''","labelOverlap":false,"labelFlush":false,"labelPadding":5,"titlePadding":17,"encode":{"ticks":{"update":{"y2":{"signal":"abs(log(datum.value)/LN10 - round(log(datum.value)/LN10)) < 0.000001 ? 6 : 3"}}}}}},
     "y":{"field":"y","type":"quantitative","title":"Phase (°)","scale":{"domain":[-90,10],"reverse":true,"nice":false,"zero":false},"axis":{"values":[-80,-60,-40,-20,0],"labelOverlap":false,"labelBound":false,"labelExpr":"'' + datum.value","labelPadding":2,"titlePadding":26}},
     "color":{"field":"s","type":"nominal","scale":{"domain":["0.9","1.1","1.3","1.5"],"range":["#E41E25","#27A5DE","#138A6E","#F5901E"]},"legend":{"orient":"none","legendX":25,"legendY":257,"title":null,"labelExpr":"datum.label + ' V vs RHE'"}}
    }},
   {"data":{"values":[{}]},"mark":{"type":"text","align":"right","baseline":"middle","fontSize":23,"fontWeight":"bold","color":"#1C1C84","font":"Liberation Sans"},
    "encoding":{"x":{"datum":62000,"type":"quantitative"},"y":{"datum":-84.7,"type":"quantitative"},"text":{"value":"TiO₂NTs/Ti mesh"}}}
  ]}
]}
]
}
